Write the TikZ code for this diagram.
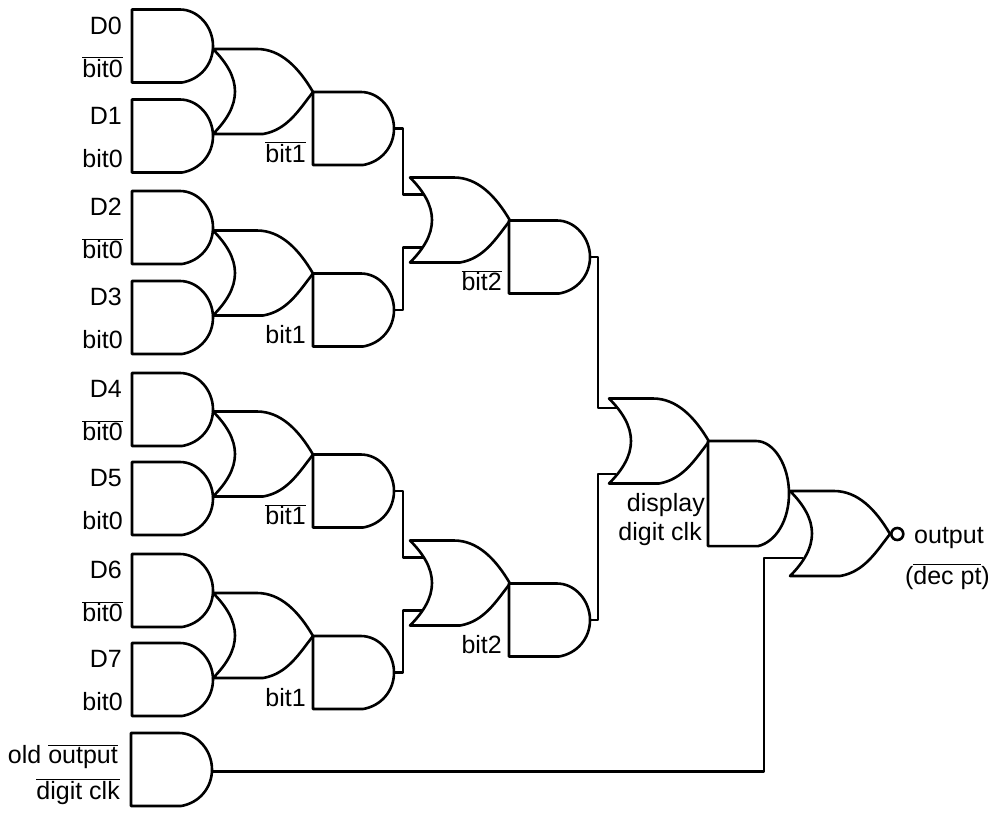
\documentclass[tikz,border=0pt]{standalone}
\usepackage{fontspec}
\setmainfont{Liberation Sans}
\newcommand{\ovl}[1]{$\overline{\hbox{#1}}$}
\tikzset{
  wire/.style={line width=2.6pt,line join=round},
  lab/.style={font=\fontsize{25}{30}\selectfont,inner sep=0pt,anchor=base east},
  labl/.style={lab,anchor=base west},
  andg/.pic={
    \draw[wire,fill=white] (0,0) -- (48,0) .. controls (66,0) and (81,17) .. (81,36.5)
      .. controls (81,55) and (68,70) .. (50,73) -- (0,73) -- cycle;
    \coordinate (-out) at (81,36.5);
  },
  org/.pic={
    \draw[wire] (0,0) -- (44,0) .. controls (68,0) and (86,19) .. (100,43)
      .. controls (86,61) and (74,81) .. (50,85) -- (0,85)
      .. controls (14,71) and (22,57) .. (22,42.5) .. controls (22,28) and (14,14) .. (0,0) -- cycle;
    \coordinate (-out) at (100,43);
    \coordinate (-a) at (13.8,17);
    \coordinate (-b) at (12,70);
    \coordinate (-c) at (8,9.5);
    \coordinate (-d) at (7,75.5);
    \coordinate (-e) at (13,67);
  }
}
\begin{document}
\begin{tikzpicture}[x=1pt,y=-1pt]
\useasboundingbox (0,0) rectangle (1000,814);
% inputs
\foreach \i/\yy/\sel in {0/9.5/\ovl{bit0},1/99.5/bit0,2/191/\ovl{bit0},3/281/bit0,
    4/373/\ovl{bit0},5/462/bit0,6/554/\ovl{bit0},7/643/bit0}{
  \pic (ga\i) at (132,\yy) {andg};
  \node[lab] (dn\i) at (122,\yy+24.5) {D\i};
  \node[lab] (sn\i) at (123,\yy+67.5) {\sel};
}
\pic (gold) at (131,733) {andg};
\node[lab] (nold) at (118,763) {old \ovl{output}};
\node[lab] (nclk) at (120,799) {\ovl{digit clk}};
% first or/and stage
\foreach \i/\yy/\sel in {0/49/\ovl{bit1},1/230.5/bit1,2/411.5/\ovl{bit1},3/593/bit1}{
  \pic (ob\i) at (213,\yy) {org};
  \pic (gb\i) at (313,\yy+43) {andg};
  \node[lab] (nb\i) at (306,\yy+113) {\sel};
}
% second stage
\foreach \i/\yy/\sel in {0/177.5/\ovl{bit2},1/540.5/bit2}{
  \pic (oc\i) at (410,\yy) {org};
  \pic (gc\i) at (509,\yy+43) {andg};
  \node[lab] (nc\i) at (502,\yy+113) {\sel};
}
% last stage
\pic (od) at (609,398.5) {org};
\pic[yscale=1.44] (gd) at (708,441) {andg};
\pic (nor) at (790,491) {org};
\node[circle,draw,line width=2.6pt,inner sep=0pt,minimum size=12pt,anchor=west] (bub) at (nor-out) {};
\node[lab] (ndisp) at (705,511.5) {display};
\node[lab] (ndig) at (702,540) {digit clk};
\node[labl] (nout) at (914,543) {output};
\node[lab] (npt) at (990,584) {(\ovl{dec pt})};
% wires
\draw[wire] (gb0-out) -- ++(9,0) |- (oc0-a);
\draw[wire] (gb1-out) -- ++(9,0) |- (oc0-b);
\draw[wire] (gb2-out) -- ++(9,0) |- (oc1-a);
\draw[wire] (gb3-out) -- ++(9,0) |- (oc1-b);
\draw[wire] (gc0-out) -- ++(8,0) |- (od-c);
\draw[wire] (gc1-out) -- ++(8,0) |- (od-d);
\draw[wire] ([yshift=-2pt]gold-out) -- ++(552,0) |- (nor-e);
\end{tikzpicture}
\end{document}
